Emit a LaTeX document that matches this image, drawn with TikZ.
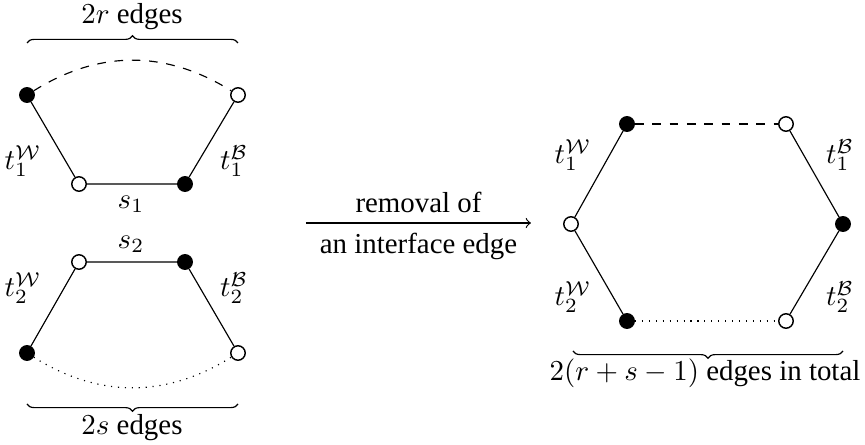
\documentclass[tikz,border=0pt]{standalone}
\usepackage{fontspec}
\setmainfont{Liberation Serif}
\usetikzlibrary{decorations.pathreplacing}
\begin{document}
\begin{tikzpicture}[x=0.346pt,y=-0.346pt,
  wv/.style={circle,draw,line width=0.5pt,fill=white,inner sep=0pt,minimum size=5pt},
  bv/.style={circle,draw,line width=0.5pt,fill=black,inner sep=0pt,minimum size=5pt},
  brc/.style={decorate,decoration={brace,amplitude=2.5pt}},
  lab/.style={inner sep=0pt}]
\useasboundingbox (0,0) rectangle (865,445);
% left top group
\node[bv] (a1) at (27,95) {};
\node[wv] (a2) at (238,95) {};
\node[wv] (a3) at (79,184) {};
\node[bv] (a4) at (185,184) {};
\draw (a1) -- (a3) -- (a4) -- (a2);
\draw[dashed] (a1) to[bend left=32] (a2);
\node[lab] (la1) at (23,161) {$t_1^{\mathcal W}$};
\node[lab] (la2) at (234,161) {$t_1^{\mathcal B}$};
\node[lab] (ls1) at (131,204) {$s_1$};
\coordinate (ba1) at (27,43);
\coordinate (ba2) at (238,43);
\draw[brc] (ba1) -- (ba2);
\node (ta) at (132,17) {$2r$ edges};
% left bottom group
\node[wv] (b1) at (79,262) {};
\node[bv] (b2) at (185,262) {};
\node[bv] (b3) at (27,353) {};
\node[wv] (b4) at (238,353) {};
\draw (b3) -- (b1) -- (b2) -- (b4);
\draw[dotted] (b3) to[bend right=32] (b4);
\node[lab] (lb1) at (23,288) {$t_2^{\mathcal W}$};
\node[lab] (lb2) at (234,288) {$t_2^{\mathcal B}$};
\node[lab] (ls2) at (131,244) {$s_2$};
\coordinate (bb1) at (238,404);
\coordinate (bb2) at (27,404);
\draw[brc] (bb1) -- (bb2);
\node (tb) at (132,428) {$2s$ edges};
% arrow
\coordinate (p1) at (306,223);
\coordinate (p2) at (531,223);
\draw[->] (p1) -- node[above] {removal of} node[below] {an interface edge} (p2);
% hexagon
\node[bv] (h1) at (627,124) {};
\node[wv] (h2) at (786,124) {};
\node[wv] (h3) at (571,224) {};
\node[bv] (h4) at (843,224) {};
\node[bv] (h5) at (627,321) {};
\node[wv] (h6) at (786,321) {};
\draw (h1) -- (h3) -- (h5);
\draw (h2) -- (h4) -- (h6);
\draw[dashed] (h1) -- (h2);
\draw[dotted] (h5) -- (h6);
\node[lab] (lh1) at (573,155) {$t_1^{\mathcal W}$};
\node[lab] (lh2) at (840,155) {$t_1^{\mathcal B}$};
\node[lab] (lh3) at (573,297) {$t_2^{\mathcal W}$};
\node[lab] (lh4) at (840,297) {$t_2^{\mathcal B}$};
\coordinate (bh1) at (843,351);
\coordinate (bh2) at (573,351);
\draw[brc] (bh1) -- (bh2);
\node (th) at (705,373) {$2(r+s-1)$ edges in total};
\end{tikzpicture}
\end{document}
